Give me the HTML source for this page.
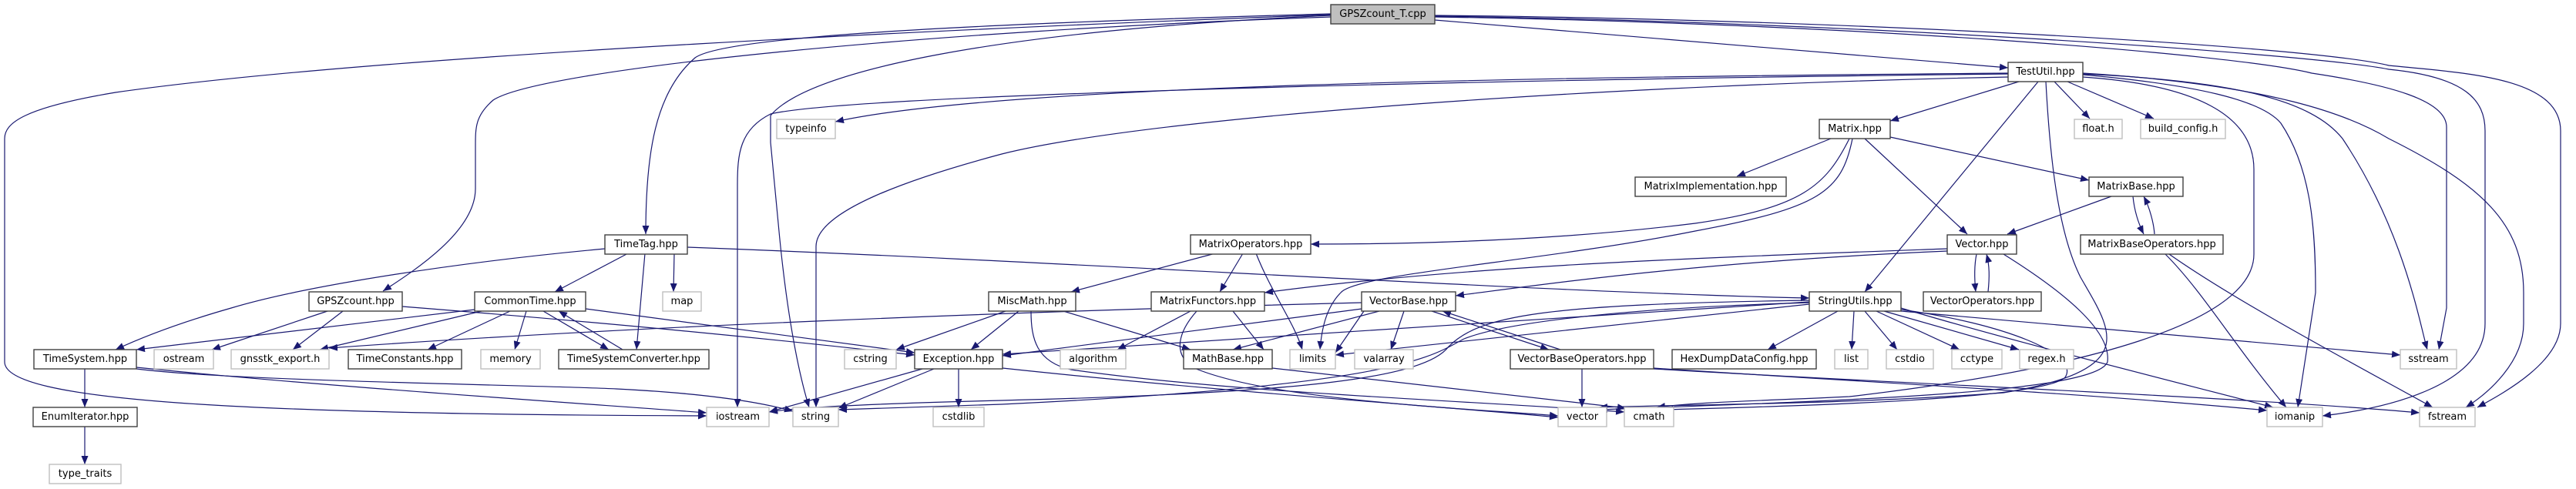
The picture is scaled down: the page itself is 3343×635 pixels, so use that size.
<!DOCTYPE html>
<html><head><meta charset="utf-8"><style>
html,body{margin:0;padding:0;background:#fff}
svg{display:block}
text{font-family:"DejaVu Sans","Liberation Sans",sans-serif;font-size:13px;fill:#000;text-anchor:middle;dominant-baseline:central}
.n{fill:#fff;stroke:#404040;stroke-width:1.4}
.g{fill:#fff;stroke:#bfbfbf;stroke-width:1.4}
.r{fill:#bfbfbf;stroke:#404040;stroke-width:1.4}
path.e{fill:none;stroke:#191970;stroke-width:1.2;marker-end:url(#a)}
</style></head><body>
<svg width="3343" height="635" viewBox="0 0 3343 635" xmlns="http://www.w3.org/2000/svg">
<defs><marker id="a" markerUnits="userSpaceOnUse" markerWidth="12" markerHeight="9" refX="11" refY="4.5" orient="auto"><path d="M0,0 L11,4.5 L0,9 z" fill="#191970"/></marker></defs>
<g>
<!-- GPSZcount_T edges -->
<path class="e" d="M1727,19 C1300,35 500,70 150,120 C30,140 6,160 6,180 L6,470 C6,520 300,538 917,540"/>
<path class="e" d="M1727,22 C1200,40 700,90 640,130 C617,150 617,165 617,190 L617,245 C617,300 540,350 497,378"/>
<path class="e" d="M1727,18 C1100,35 930,55 902,75 C850,120 838,200 838,304"/>
<path class="e" d="M1727,20 C1300,40 1050,90 1000,150 L1000,185 L1010,290 C1020,400 1035,480 1050,529"/>
<path class="e" d="M1862,26 L2606,88"/>
<path class="e" d="M1862,20 C2400,25 3000,60 3100,85 C3200,95 3323,100 3323,170 L3323,420 C3323,470 3250,510 3215,529"/>
<path class="e" d="M1862,21 C2400,28 3000,70 3100,90 C3200,100 3225,130 3225,170 L3225,420 C3225,500 3100,530 3014,540"/>
<path class="e" d="M1862,22 C2400,30 2900,70 3000,95 C3100,110 3175,130 3175,165 L3175,400 L3165,454"/>
<!-- TestUtil edges -->
<path class="e" d="M2606,95 C2000,100 1300,110 1084,158"/>
<path class="e" d="M2606,96 C1800,105 1100,125 1000,148 C960,168 957,200 957,240 L957,529"/>
<path class="e" d="M2606,100 C2100,110 1500,150 1300,200 C1150,240 1059,280 1059,320 L1059,529"/>
<path class="e" d="M2620,106 L2453,157"/>
<path class="e" d="M2666,106 L2712,154"/>
<path class="e" d="M2683,106 L2795,154"/>
<path class="e" d="M2645,106 L2420,379"/>
<path class="e" d="M2655,106 C2660,200 2670,300 2700,360 C2740,430 2780,480 2600,510 C2400,525 2200,525 2075,529"/>
<path class="e" d="M2703,100 C2850,110 2925,150 2925,220 L2925,330 C2925,420 2700,480 2400,515 C2300,520 2200,522 2150,529"/>
<path class="e" d="M2703,97 C2850,110 2935,130 2960,160 C3000,220 3005,300 3005,380 L2982,529"/>
<path class="e" d="M2703,96 C2900,105 3000,130 3040,180 C3120,300 3140,420 3150,454"/>
<path class="e" d="M2703,95 C2950,110 3050,150 3100,180 C3220,240 3275,290 3275,380 L3275,420 C3275,470 3230,510 3200,529"/>
<!-- Matrix -->
<path class="e" d="M2376,180 L2254,229"/>
<path class="e" d="M2453,178 L2711,234"/>
<path class="e" d="M2420,180 L2553,304"/>
<path class="e" d="M2400,180 C2370,240 2340,270 2200,290 C2000,315 1800,317 1701,317"/>
<path class="e" d="M2404,180 C2390,250 2360,270 2200,300 C2000,340 1760,355 1740,380 C1720,400 1715,430 1713,454"/>
<!-- MatrixBase -->
<path class="e" d="M2740,255 L2605,304"/>
<path class="e" d="M2768,255 C2770,275 2775,290 2782,304"/>
<path class="e" d="M2796,304 C2795,290 2790,270 2782,255"/>
<!-- MatrixBaseOperators -->
<path class="e" d="M2810,330 C2860,380 2900,450 2967,529"/>
<path class="e" d="M2815,330 C2900,390 3050,470 3157,529"/>
<!-- Vector -->
<path class="e" d="M2527,323 C2200,335 1900,345 1641,380"/>
<path class="e" d="M2527,326 C2200,340 2000,370 1889,384"/>
<path class="e" d="M2565,330 C2562,345 2562,360 2564,379"/>
<path class="e" d="M2580,379 C2582,360 2582,345 2578,330"/>
<path class="e" d="M2600,330 C2680,380 2740,430 2735,470 C2720,510 2400,520 2075,532"/>
<!-- StringUtils -->
<path class="e" d="M2385,404 L2294,454"/>
<path class="e" d="M2406,404 L2403,454"/>
<path class="e" d="M2420,404 L2462,454"/>
<path class="e" d="M2435,404 L2543,454"/>
<path class="e" d="M2445,404 L2620,454"/>
<path class="e" d="M2467,404 L3115,461"/>
<path class="e" d="M2467,400 C2600,440 2800,490 2950,529"/>
<path class="e" d="M2348,395 L1733,461"/>
<path class="e" d="M2348,392 L1301,460"/>
<path class="e" d="M2348,390 C2000,395 1920,410 1880,450 C1850,490 1700,510 1300,520 C1100,525 1030,530 998,535"/>
<path class="e" d="M2348,393 C2100,400 1950,420 1900,440 C1860,460 1830,500 1300,525 L1088,532"/>
<path class="e" d="M2467,402 C2600,420 2700,460 2680,490 C2650,520 2300,528 2160,532"/>
<!-- TimeTag -->
<path class="e" d="M875,329 L874,379"/>
<path class="e" d="M815,329 L720,379"/>
<path class="e" d="M837,329 L826,454"/>
<path class="e" d="M785,323 C600,340 400,370 300,400 C230,420 180,440 150,454"/>
<path class="e" d="M892,321 C1400,340 2000,380 2348,387"/>
<!-- GPSZcount.hpp -->
<path class="e" d="M425,404 L275,454"/>
<path class="e" d="M445,404 L380,454"/>
<path class="e" d="M522,398 C800,420 1000,440 1187,461"/>
<!-- CommonTime -->
<path class="e" d="M616,402 L177,454"/>
<path class="e" d="M625,404 L415,454"/>
<path class="e" d="M662,404 L555,454"/>
<path class="e" d="M683,404 L668,454"/>
<path class="e" d="M705,404 L790,454"/>
<path class="e" d="M808,454 L725,404"/>
<path class="e" d="M760,401 L1187,458"/>
<path class="e" d="M1767,393 C1300,405 800,425 427,452"/>
<!-- TimeSystem -->
<path class="e" d="M110,479 L110,529"/>
<path class="e" d="M177,477 C400,500 700,520 917,536"/>
<path class="e" d="M177,479 C300,495 700,500 800,505 C900,510 980,520 1029,534"/>
<path class="e" d="M110,554 L110,603"/>
<!-- MiscMath -->
<path class="e" d="M1305,404 L1163,454"/>
<path class="e" d="M1322,404 L1260,454"/>
<path class="e" d="M1380,404 L1545,454"/>
<path class="e" d="M1338,404 C1338,440 1345,470 1390,480 C1600,510 1900,520 2108,535"/>
<!-- MatrixOperators -->
<path class="e" d="M1577,329 L1390,379"/>
<path class="e" d="M1613,329 L1583,379"/>
<path class="e" d="M1630,329 C1650,380 1680,420 1690,454"/>
<!-- MatrixFunctors -->
<path class="e" d="M1545,404 L1450,454"/>
<path class="e" d="M1600,404 L1640,454"/>
<path class="e" d="M1553,404 C1530,430 1520,460 1550,478 C1650,520 1900,530 2022,540"/>
<!-- Exception -->
<path class="e" d="M1197,479 L998,535"/>
<path class="e" d="M1212,479 L1088,530"/>
<path class="e" d="M1244,479 L1244,529"/>
<path class="e" d="M1301,478 C1600,510 1900,530 2022,542"/>
<!-- VectorBase -->
<path class="e" d="M1775,400 L1301,462"/>
<path class="e" d="M1790,404 L1600,454"/>
<path class="e" d="M1822,404 L1805,454"/>
<path class="e" d="M1770,404 L1733,458"/>
<path class="e" d="M1858,404 L2010,454"/>
<path class="e" d="M2025,454 L1872,404"/>
<!-- VectorBaseOperators -->
<path class="e" d="M2053,479 L2053,529"/>
<path class="e" d="M2146,478 C2400,495 2700,510 2942,533"/>
<path class="e" d="M2146,479 C2500,500 2900,515 3140,536"/>
<!-- MathBase -->
<path class="e" d="M1651,478 L2110,530"/>
</g>
<g>
<rect class="r" x="1727" y="6" width="135" height="25"/><text x="1794.5" y="18.5">GPSZcount_T.cpp</text>
<rect class="n" x="2606" y="81" width="97" height="25"/><text x="2654.5" y="93.5">TestUtil.hpp</text>
<rect class="g" x="1008" y="155" width="76" height="25"/><text x="1046" y="167.5">typeinfo</text>
<rect class="n" x="2361" y="155" width="92" height="25"/><text x="2407" y="167.5">Matrix.hpp</text>
<rect class="g" x="2692" y="155" width="62" height="25"/><text x="2723" y="167.5">float.h</text>
<rect class="g" x="2778" y="155" width="110" height="25"/><text x="2833" y="167.5">build_config.h</text>
<rect class="n" x="2122" y="230" width="196" height="25"/><text x="2220" y="242.5">MatrixImplementation.hpp</text>
<rect class="n" x="2711" y="230" width="122" height="25"/><text x="2772" y="242.5">MatrixBase.hpp</text>
<rect class="n" x="785" y="305" width="107" height="25"/><text x="838.5" y="317.5">TimeTag.hpp</text>
<rect class="n" x="1545" y="305" width="156" height="25"/><text x="1623" y="317.5">MatrixOperators.hpp</text>
<rect class="n" x="2527" y="305" width="90" height="25"/><text x="2572" y="317.5">Vector.hpp</text>
<rect class="n" x="2700" y="305" width="185" height="25"/><text x="2792.5" y="317.5">MatrixBaseOperators.hpp</text>
<rect class="n" x="401" y="379" width="121" height="25"/><text x="461.5" y="391.5">GPSZcount.hpp</text>
<rect class="n" x="616" y="379" width="144" height="25"/><text x="688" y="391.5">CommonTime.hpp</text>
<rect class="g" x="860" y="379" width="50" height="25"/><text x="885" y="391.5">map</text>
<rect class="n" x="1283" y="379" width="113" height="25"/><text x="1339.5" y="391.5">MiscMath.hpp</text>
<rect class="n" x="1494" y="379" width="147" height="25"/><text x="1567.5" y="391.5">MatrixFunctors.hpp</text>
<rect class="n" x="1767" y="379" width="122" height="25"/><text x="1828" y="391.5">VectorBase.hpp</text>
<rect class="n" x="2348" y="379" width="119" height="25"/><text x="2407.5" y="391.5">StringUtils.hpp</text>
<rect class="n" x="2496" y="379" width="153" height="25"/><text x="2572.5" y="391.5">VectorOperators.hpp</text>
<rect class="n" x="44" y="454" width="133" height="25"/><text x="110.5" y="466.5">TimeSystem.hpp</text>
<rect class="g" x="200" y="454" width="77" height="25"/><text x="238.5" y="466.5">ostream</text>
<rect class="g" x="300" y="454" width="127" height="25"/><text x="363.5" y="466.5">gnsstk_export.h</text>
<rect class="n" x="452" y="454" width="147" height="25"/><text x="525.5" y="466.5">TimeConstants.hpp</text>
<rect class="g" x="624" y="454" width="77" height="25"/><text x="662.5" y="466.5">memory</text>
<rect class="n" x="725" y="454" width="195" height="25"/><text x="822.5" y="466.5">TimeSystemConverter.hpp</text>
<rect class="g" x="1096" y="454" width="67" height="25"/><text x="1129.5" y="466.5">cstring</text>
<rect class="n" x="1187" y="454" width="114" height="25"/><text x="1244" y="466.5">Exception.hpp</text>
<rect class="g" x="1376" y="454" width="85" height="25"/><text x="1418.5" y="466.5">algorithm</text>
<rect class="n" x="1536" y="454" width="115" height="25"/><text x="1593.5" y="466.5">MathBase.hpp</text>
<rect class="g" x="1674" y="454" width="59" height="25"/><text x="1703.5" y="466.5">limits</text>
<rect class="g" x="1758" y="454" width="76" height="25"/><text x="1796" y="466.5">valarray</text>
<rect class="n" x="1960" y="454" width="186" height="25"/><text x="2053" y="466.5">VectorBaseOperators.hpp</text>
<rect class="n" x="2170" y="454" width="187" height="25"/><text x="2263.5" y="466.5">HexDumpDataConfig.hpp</text>
<rect class="g" x="2381" y="454" width="43" height="25"/><text x="2402.5" y="466.5">list</text>
<rect class="g" x="2448" y="454" width="61" height="25"/><text x="2478.5" y="466.5">cstdio</text>
<rect class="g" x="2533" y="454" width="65" height="25"/><text x="2565.5" y="466.5">cctype</text>
<rect class="g" x="2621" y="454" width="70" height="25"/><text x="2656" y="466.5">regex.h</text>
<rect class="g" x="3115" y="454" width="73" height="25"/><text x="3151.5" y="466.5">sstream</text>
<rect class="n" x="43" y="529" width="135" height="25"/><text x="110.5" y="541.5">EnumIterator.hpp</text>
<rect class="g" x="917" y="529" width="81" height="25"/><text x="957.5" y="541.5">iostream</text>
<rect class="g" x="1029" y="529" width="59" height="25"/><text x="1058.5" y="541.5">string</text>
<rect class="g" x="1211" y="529" width="66" height="25"/><text x="1244" y="541.5">cstdlib</text>
<rect class="g" x="2022" y="529" width="63" height="25"/><text x="2053.5" y="541.5">vector</text>
<rect class="g" x="2108" y="529" width="64" height="25"/><text x="2140" y="541.5">cmath</text>
<rect class="g" x="2942" y="529" width="72" height="25"/><text x="2978" y="541.5">iomanip</text>
<rect class="g" x="3140" y="529" width="72" height="25"/><text x="3176" y="541.5">fstream</text>
<rect class="g" x="64" y="603" width="93" height="25"/><text x="110.5" y="615.5">type_traits</text>
</g>
</svg>
</body></html>
